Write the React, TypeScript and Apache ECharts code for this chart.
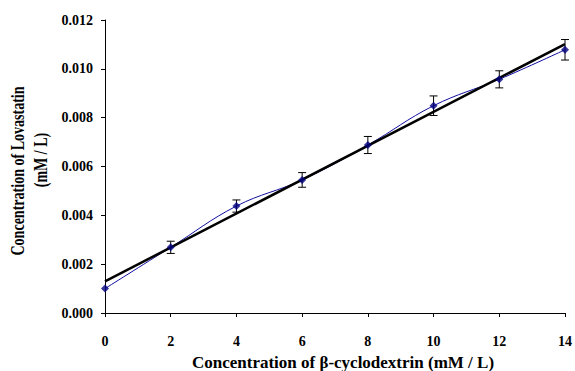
import React, { useEffect, useRef } from "react";
import * as echarts from "echarts";

const xValues = [0, 2, 4, 6, 8, 10, 12, 14];
const yValues = [0.001, 0.00269, 0.00438, 0.00545, 0.00688, 0.00849, 0.00957, 0.01078];
const yErrors = [0.0, 0.00025, 0.00025, 0.0003, 0.00035, 0.0004, 0.00035, 0.00042];
const xTitle = "Concentration of β-cyclodextrin (mM / L)";
const yTitleLine1 = "Concentration of Lovastatin";
const yTitleLine2 = "(mM / L)";

const FONT = '"Liberation Serif", "Times New Roman", serif';

function linearFit(xs: number[], ys: number[]) {
  const n = xs.length;
  const mx = xs.reduce((a, b) => a + b, 0) / n;
  const my = ys.reduce((a, b) => a + b, 0) / n;
  let sxy = 0;
  let sxx = 0;
  for (let i = 0; i < n; i++) {
    sxy += (xs[i] - mx) * (ys[i] - my);
    sxx += (xs[i] - mx) * (xs[i] - mx);
  }
  const slope = sxy / sxx;
  return { slope, intercept: my - slope * mx };
}

export default function App() {
  const ref = useRef<HTMLDivElement>(null);

  useEffect(() => {
    if (!ref.current) return;
    const chart = echarts.init(ref.current, null, { renderer: "svg" });
    const fit = linearFit(xValues, yValues);
    const xMin = xValues[0];
    const xMax = xValues[xValues.length - 1];
    const trend = [
      [xMin, fit.intercept + fit.slope * xMin],
      [xMax, fit.intercept + fit.slope * xMax],
    ];
    const points = xValues.map((x, i) => [x, yValues[i]]);
    const errData = xValues
      .map((x, i) => [x, yValues[i] - yErrors[i], yValues[i] + yErrors[i], yErrors[i]])
      .filter((d) => d[3] > 0);

    const yTitleStyle = {
      fontFamily: FONT,
      fontWeight: "bold",
      fontSize: 18,
      fill: "#000",
      align: "center",
      verticalAlign: "middle",
    };

    chart.setOption({
      animation: false,
      backgroundColor: "#ffffff",
      grid: { left: 105, right: 7, top: 20, bottom: 58, containLabel: false },
      xAxis: {
        type: "value",
        min: 0,
        max: 14,
        interval: 2,
        axisLine: { lineStyle: { color: "#000", width: 1 } },
        axisTick: { show: true, length: 4, lineStyle: { color: "#000" } },
        axisLabel: { margin: 21, fontFamily: FONT, fontWeight: "bold", fontSize: 14, color: "#000" },
        splitLine: { show: false },
      },
      yAxis: {
        type: "value",
        min: 0,
        max: 0.012,
        interval: 0.002,
        axisLine: { show: true, lineStyle: { color: "#000", width: 1 } },
        axisTick: { show: true, length: 4, lineStyle: { color: "#000" } },
        axisLabel: {
          margin: 12,
          fontFamily: FONT,
          fontWeight: "bold",
          fontSize: 14,
          color: "#000",
          formatter: (v: number) => v.toFixed(3),
        },
        splitLine: { show: false },
      },
      graphic: [
        {
          type: "text",
          x: 18,
          y: 171,
          rotation: Math.PI / 2,
          scaleX: 0.78,
          style: { ...yTitleStyle, text: yTitleLine1 },
        },
        {
          type: "text",
          x: 41,
          y: 160,
          rotation: Math.PI / 2,
          scaleX: 0.78,
          style: { ...yTitleStyle, text: yTitleLine2 },
        },
        {
          type: "text",
          x: 343,
          y: 362,
          style: {
            text: xTitle,
            fontFamily: FONT,
            fontWeight: "bold",
            fontSize: 17,
            fill: "#000",
            align: "center",
            verticalAlign: "middle",
          },
        },
      ],
      series: [
        {
          type: "line",
          data: points,
          smooth: 0.4,
          showSymbol: false,
          lineStyle: { color: "#1010a0", width: 1 },
          z: 2,
        },
        {
          type: "line",
          data: trend,
          showSymbol: false,
          lineStyle: { color: "#000", width: 2.5 },
          z: 3,
        },
        {
          type: "custom",
          data: errData,
          z: 4,
          renderItem: (params: any, api: any) => {
            const x = api.value(0);
            const lo = api.coord([x, api.value(1)]);
            const hi = api.coord([x, api.value(2)]);
            const w = 4;
            const style = { stroke: "#000", lineWidth: 1 };
            return {
              type: "group",
              children: [
                { type: "line", shape: { x1: lo[0], y1: lo[1], x2: hi[0], y2: hi[1] }, style },
                { type: "line", shape: { x1: lo[0] - w, y1: lo[1], x2: lo[0] + w, y2: lo[1] }, style },
                { type: "line", shape: { x1: hi[0] - w, y1: hi[1], x2: hi[0] + w, y2: hi[1] }, style },
              ],
            };
          },
        },
        {
          type: "scatter",
          data: points,
          symbol: "diamond",
          symbolSize: 8,
          itemStyle: { color: "#000080" },
          z: 5,
        },
      ],
    });
    return () => chart.dispose();
  }, []);

  return (
    <div
      ref={ref}
      style={{ position: "fixed", left: 0, top: 0, width: 575, height: 371, background: "#fff" }}
    />
  );
}
